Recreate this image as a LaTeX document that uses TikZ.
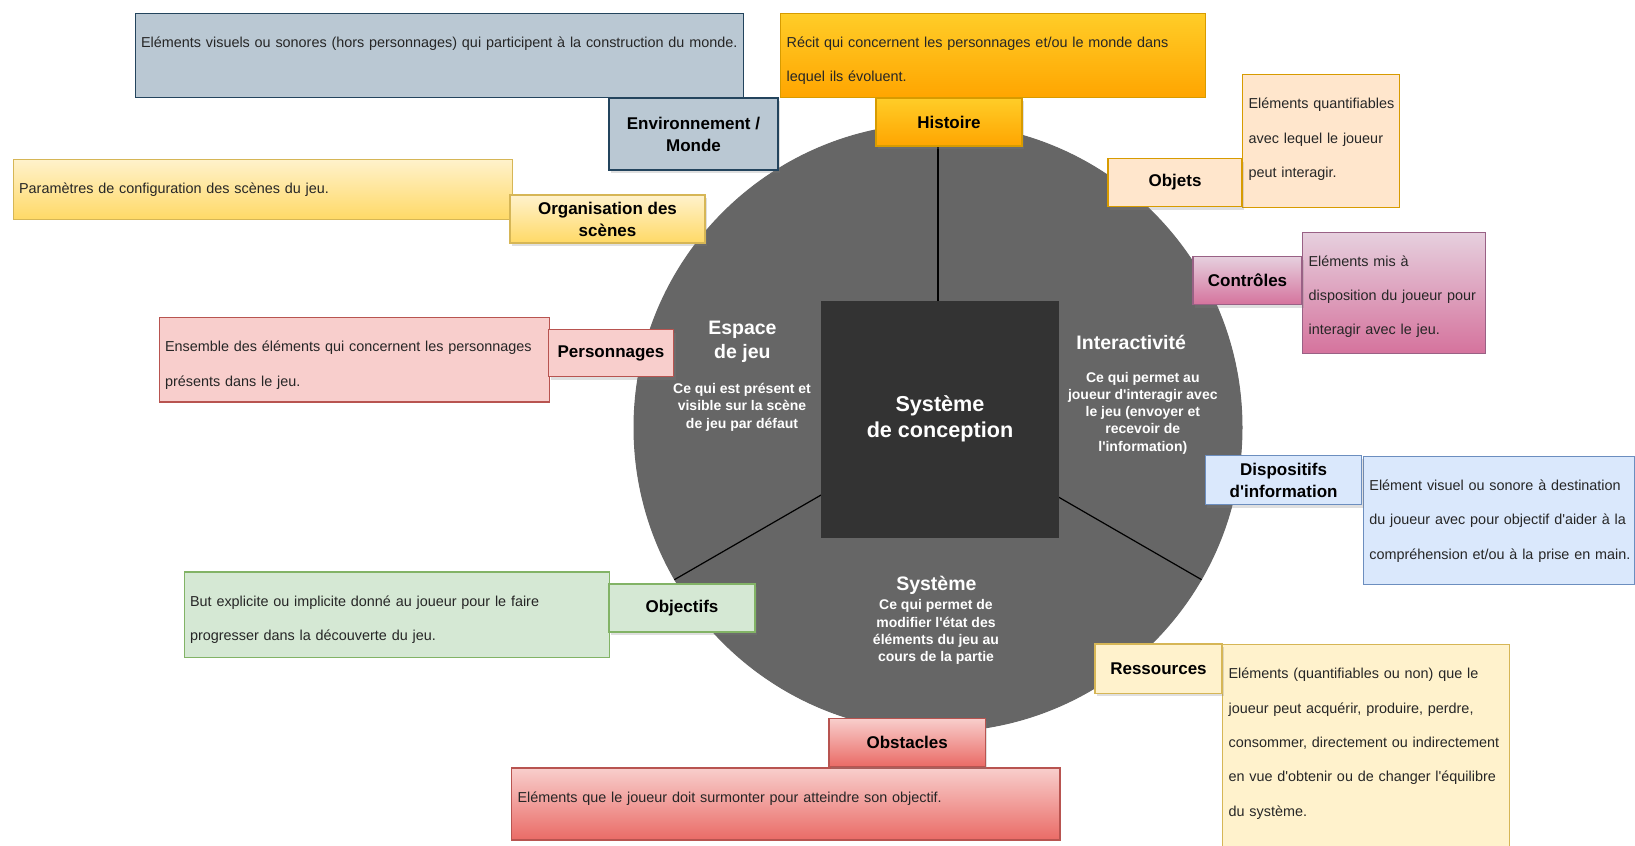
\documentclass[tikz,border=0pt]{standalone}
\usepackage{fontspec}
\setmainfont{Liberation Sans}
\usetikzlibrary{shadows}

\definecolor{envfill}{HTML}{BAC8D3}
\definecolor{envline}{HTML}{23445D}
\definecolor{histtop}{HTML}{FFCD28}
\definecolor{histbot}{HTML}{FFA500}
\definecolor{histline}{HTML}{D79B00}
\definecolor{objfill}{HTML}{FFE6CC}
\definecolor{objline}{HTML}{D79B00}
\definecolor{orgtop}{HTML}{FFF2CC}
\definecolor{orgbot}{HTML}{FFD966}
\definecolor{orgline}{HTML}{D6B656}
\definecolor{ctrltop}{HTML}{E6D0DE}
\definecolor{ctrlbot}{HTML}{D5739D}
\definecolor{ctrlline}{HTML}{996185}
\definecolor{persfill}{HTML}{F8CECC}
\definecolor{persline}{HTML}{B85450}
\definecolor{dispfill}{HTML}{DAE8FC}
\definecolor{displine}{HTML}{6C8EBF}
\definecolor{objffill}{HTML}{D5E8D4}
\definecolor{objfline}{HTML}{82B366}
\definecolor{resfill}{HTML}{FFF2CC}
\definecolor{resline}{HTML}{D6B656}
\definecolor{obstop}{HTML}{F8CECC}
\definecolor{obsbot}{HTML}{EA6B66}
\definecolor{obsline}{HTML}{B85450}
\definecolor{wheelgrey}{HTML}{666666}
\definecolor{coregrey}{HTML}{333333}

\begin{document}
\begin{tikzpicture}[x=1pt, y=-1pt,
    descbox/.style={draw, line width=0.6pt, anchor=north west, inner sep=0pt},
    desctext/.style={anchor=base west, inner sep=0pt, text width=400pt, align=left,
        font=\fontsize{7.2}{17.2}\selectfont, text=black!85},
    tag/.style={draw, line width=0.6pt, inner sep=0pt, align=center,
        font=\fontsize{8.5}{11}\selectfont\bfseries,
        drop shadow={opacity=0.25, shadow xshift=1pt, shadow yshift=-1.5pt}},
    title/.style={text=white, align=center, font=\fontsize{9.75}{12}\selectfont\bfseries},
    blurb/.style={text=white, align=center, font=\fontsize{7}{8.6}\selectfont\bfseries}]
    \useasboundingbox (0,0) rectangle (817.5,423);
    \clip (0,0) rectangle (817.5,423);
    \fill [white] (0,0) rectangle (817.5,423);

    % roue centrale
    \node [circle, fill=wheelgrey, draw=black!60, line width=0.5pt, minimum size=304pt, inner sep=0pt] (wheel) at (469,213.75) {};
    \foreach \a in {90,210,330}
        \draw [line width=0.6pt] (wheel.center) -- (wheel.\a);
    \node [fill=coregrey, minimum width=119pt, minimum height=118.5pt, inner sep=0pt,
        text=white, align=center, font=\fontsize{10.8}{13}\selectfont\bfseries] (core) at (470,209.5) {Système\\de conception};

    \node [title] (espace) at (371.2,170.8) {Espace\\de jeu};
    \node [blurb] (espacetxt) at (371,203.6) {Ce qui est présent et\\visible sur la scène\\de jeu par défaut};
    \node [title] (inter) at (565.6,171) {Interactivité};
    \node [blurb] (intertxt) at (571.4,206.5) {Ce qui permet au\\joueur d\textquotesingle interagir avec\\le jeu (envoyer et\\recevoir de\\l\textquotesingle information)};
    \node [title] (systeme) at (468.2,292.5) {Système};
    \node [blurb] (systemetxt) at (468,316) {Ce qui permet de\\modifier l\textquotesingle état des\\éléments du jeu au\\cours de la partie};

    % descriptions
    \node [descbox, fill=envfill, draw=envline, minimum width=304pt, minimum height=42.25pt] (envbox) at (67.25,6.25) {};
    \node [desctext] (envtxt) at ([xshift=3.1pt, yshift=-17.3pt]envbox.north west) {Eléments visuels ou sonores (hors personnages) qui participent à la construction du monde.};
    \node [descbox, top color=histtop, bottom color=histbot, draw=histline, minimum width=212.5pt, minimum height=42.25pt] (histbox) at (390,6.25) {};
    \node [desctext] (histtxt) at ([xshift=3.1pt, yshift=-17.3pt]histbox.north west) {Récit qui concernent les personnages et/ou le monde dans\\lequel ils évoluent.};
    \node [descbox, fill=objfill, draw=objline, minimum width=78.5pt, minimum height=66.25pt] (objbox) at (621,37) {};
    \node [desctext] (objtxt) at ([xshift=3.1pt, yshift=-17.3pt]objbox.north west) {Eléments quantifiables\\avec lequel le joueur\\peut interagir.};
    \node [descbox, top color=orgtop, bottom color=orgbot, draw=orgline, minimum width=249.75pt, minimum height=30.25pt] (orgbox) at (6.25,79.25) {};
    \node [desctext] (orgtxt) at ([xshift=3.1pt, yshift=-17.3pt]orgbox.north west) {Paramètres de configuration des scènes du jeu.};
    \node [descbox, top color=ctrltop, bottom color=ctrlbot, draw=ctrlline, minimum width=91.5pt, minimum height=60.5pt] (ctrlbox) at (651,115.75) {};
    \node [desctext] (ctrltxt) at ([xshift=3.1pt, yshift=-17.3pt]ctrlbox.north west) {Eléments mis à\\disposition du joueur pour\\interagir avec le jeu.};
    \node [descbox, fill=persfill, draw=persline, minimum width=195pt, minimum height=42.2pt] (persbox) at (79.25,158.5) {};
    \node [desctext] (perstxt) at ([xshift=3.1pt, yshift=-17.3pt]persbox.north west) {Ensemble des éléments qui concernent les personnages\\présents dans le jeu.};
    \node [descbox, fill=dispfill, draw=displine, minimum width=135.4pt, minimum height=64.15pt] (dispbox) at (681.4,227.85) {};
    \node [desctext] (disptxt) at ([xshift=3.1pt, yshift=-17.3pt]dispbox.north west) {Elément visuel ou sonore à destination\\du joueur avec pour objectif d\textquotesingle aider à la\\compréhension et/ou à la prise en main.};
    \node [descbox, fill=objffill, draw=objfline, minimum width=212.75pt, minimum height=42.8pt] (objfbox) at (91.75,285.7) {};
    \node [desctext] (objftxt) at ([xshift=3.1pt, yshift=-17.3pt]objfbox.north west) {But explicite ou implicite donné au joueur pour le faire\\progresser dans la découverte du jeu.};
    \node [descbox, fill=resfill, draw=resline, minimum width=143.5pt, minimum height=120pt] (resbox) at (611,322) {};
    \node [desctext] (restxt) at ([xshift=3.1pt, yshift=-17.3pt]resbox.north west) {Eléments (quantifiables ou non) que le\\joueur peut acquérir, produire, perdre,\\consommer, directement ou indirectement\\en vue d\textquotesingle obtenir ou de changer l\textquotesingle équilibre\\du système.};
    \node [descbox, top color=obstop, bottom color=obsbot, draw=obsline, minimum width=274.2pt, minimum height=36pt] (obsbox) at (255.5,383.7) {};
    \node [desctext] (obstxt) at ([xshift=3.1pt, yshift=-17.3pt]obsbox.north west) {Eléments que le joueur doit surmonter pour atteindre son objectif.};

    % etiquettes
    \node [tag, fill=envfill, draw=envline, minimum width=84.5pt, minimum height=36pt] (envlab) at (346.75,67) {Environnement /\\Monde};
    \node [tag, top color=histtop, bottom color=histbot, draw=histline, minimum width=73pt, minimum height=24pt] (histlab) at (474.5,61) {Histoire};
    \node [tag, fill=objfill, draw=objline, minimum width=67pt, minimum height=24pt] (objlab) at (587.5,91.25) {Objets};
    \node [tag, top color=orgtop, bottom color=orgbot, draw=orgline, minimum width=97.5pt, minimum height=24pt] (orglab) at (303.75,109.5) {Organisation des\\scènes};
    \node [tag, top color=ctrltop, bottom color=ctrlbot, draw=ctrlline, minimum width=54.5pt, minimum height=24pt] (ctrllab) at (623.75,140.25) {Contrôles};
    \node [tag, fill=persfill, draw=persline, minimum width=62.5pt, minimum height=23.5pt] (perslab) at (305.5,176.5) {Personnages};
    \node [tag, fill=dispfill, draw=displine, minimum width=78.2pt, minimum height=24.5pt] (displab) at (641.8,240.1) {Dispositifs\\d\textquotesingle information};
    \node [tag, fill=objffill, draw=objfline, minimum width=73pt, minimum height=24pt] (objflab) at (341,304) {Objectifs};
    \node [tag, fill=resfill, draw=resline, minimum width=63.5pt, minimum height=24.7pt] (reslab) at (579.25,334.35) {Ressources};
    \node [tag, top color=obstop, bottom color=obsbot, draw=obsline, minimum width=78.2pt, minimum height=24pt] (obslab) at (453.6,371.2) {Obstacles};
\end{tikzpicture}
\end{document}
